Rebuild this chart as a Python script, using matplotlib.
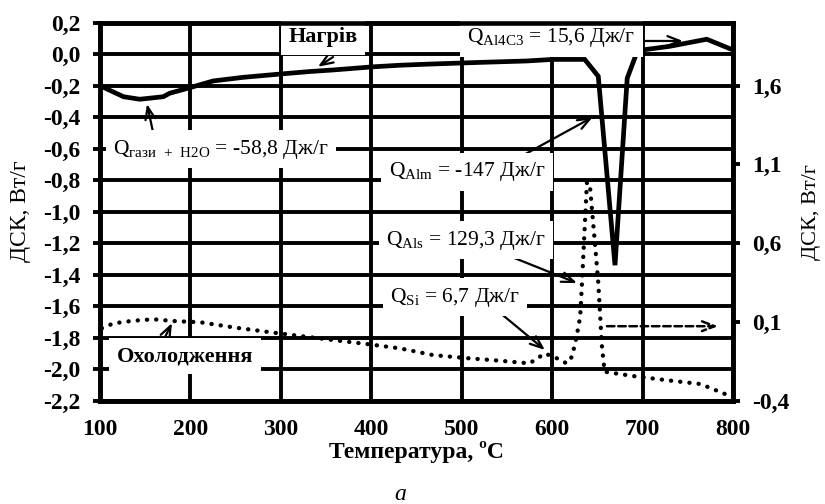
import matplotlib
matplotlib.use("Agg")
import matplotlib.pyplot as plt

# ---------------- data ----------------
heat_T = [100, 126, 144, 170, 177, 201, 225, 258, 299, 332, 358, 402, 432, 454, 468,
          520, 572, 601, 636, 651, 669.5, 683, 694, 700, 730, 771, 800]
heat_Q = [-0.20, -0.27, -0.286, -0.27, -0.248, -0.21, -0.17, -0.147, -0.126, -0.11, -0.10,
          -0.08, -0.07, -0.065, -0.062, -0.052, -0.043, -0.033, -0.033, -0.14, -1.34,
          -0.153, 0.016, 0.027, 0.05, 0.095, 0.027]

cool_T = [102, 115, 137, 159, 181, 211, 247, 284, 321, 358, 395, 432, 468, 506, 542,
          575, 592, 605, 616, 622, 627, 631, 633, 636, 638.5, 642, 647, 651, 655, 658,
          689, 727, 764, 791]
cool_Q = [0.06, 0.091, 0.108, 0.117, 0.106, 0.098, 0.066, 0.038, 0.011, -0.015, -0.04,
          -0.068, -0.11, -0.13, -0.146, -0.163, -0.10, -0.13, -0.163, -0.12, 0.006,
          0.133, 0.345, 0.70, 0.989, 0.95, 0.62, 0.35, -0.05, -0.216, -0.243, -0.27,
          -0.294, -0.357]

x_ticks = [100, 200, 300, 400, 500, 600, 700, 800]
y_left_ticks = [0.2, 0.0, -0.2, -0.4, -0.6, -0.8, -1.0, -1.2, -1.4, -1.6, -1.8, -2.0, -2.2]
y_right_ticks = [1.6, 1.1, 0.6, 0.1, -0.4]

# ---------------- style ----------------
plt.rcParams['font.family'] = ['Liberation Serif', 'DejaVu Serif']
plt.rcParams['mathtext.fontset'] = 'custom'
plt.rcParams['mathtext.rm'] = 'Liberation Serif'

fig = plt.figure(figsize=(8.25, 5.04), dpi=100)
ax = fig.add_axes([100/825, 1-400.7/504, 633/825, 378/504])
ax2 = ax.twinx()

GRID_LW = 2.8
TICK_FS = 17
ax.set_xlim(100, 800)
ax.set_ylim(-2.2, 0.2)
ax2.set_ylim(-0.4, 2.0)

ax.set_xticks(x_ticks)
ax.set_xticklabels([str(v) for v in x_ticks], fontweight='bold', fontsize=TICK_FS)
ax.set_yticks(y_left_ticks)
ax.set_yticklabels([f"{v:.1f}".replace('.', ',') for v in y_left_ticks],
                   fontweight='bold', fontsize=TICK_FS)
ax2.set_yticks(y_right_ticks)
ax2.set_yticklabels([f"{v:.1f}".replace('.', ',') for v in y_right_ticks],
                    fontweight='bold', fontsize=TICK_FS)

ax.tick_params(axis='x', length=0, pad=13)
ax.tick_params(axis='y', direction='out', length=5, width=GRID_LW, pad=9)
ax2.tick_params(axis='y', direction='out', length=5, width=GRID_LW, pad=9)

ax.grid(True, color='black', linewidth=GRID_LW)
ax.set_axisbelow(True)
for a in (ax, ax2):
    for s in a.spines.values():
        s.set_linewidth(3.3)
        s.set_color('black')

# curves
ax.plot(heat_T, heat_Q, color='black', linewidth=3.4, solid_joinstyle='miter', zorder=3)
ax2.plot(cool_T, cool_Q, color='black', linewidth=3.1, linestyle=(0, (0.05, 2.1)),
         dash_capstyle='round', zorder=3)

# labels
ax.set_ylabel('ДСК, Вт/г', fontsize=17, labelpad=9)
ax2.set_ylabel('ДСК, Вт/г', fontsize=16, labelpad=9)
ax.set_xlabel('Температура, ºС', fontsize=17, fontweight='bold', labelpad=1)
fig.text(400/825, 1-494/504, 'а', fontsize=17, style='italic', ha='center', va='center')

box = dict(boxstyle='square,pad=0.35', fc='white', ec='none')
arr = dict(arrowstyle='->,head_length=0.9,head_width=0.35', color='black', lw=1.6,
           shrinkA=0, shrinkB=0)

def ann(text, xy, xytext, tpos, **kw):
    ax.annotate('', xy=xy, xytext=xytext, arrowprops=arr, zorder=5)
    ax.text(tpos[0], tpos[1], text, ha='center', va='center', bbox=box, zorder=6, **kw)

QFS = 15.5
ann('Нагрів', (341, -0.08), (357.7, -0.018), (346.6, 0.109), fontsize=16, fontweight='bold')
ann(r'Q$_{\mathregular{гази\ +\ H2O}}$ = -58,8 Дж/г', (152, -0.316), (158.6, -0.494),
    (234, -0.602), fontsize=QFS)
ann(r'Q$_{\mathregular{Al4C3}}$ = 15,6 Дж/г', (744.7, 0.084), (695, 0.084),
    (599.3, 0.103), fontsize=QFS)
ann(r'Q$_{\mathregular{Alm}}$ = -147 Дж/г', (645, -0.399), (564.4, -0.653),
    (506, -0.747), fontsize=QFS)
ann(r'Q$_{\mathregular{Als}}$ = 129,3 Дж/г', (627.5, -1.453), (550, -1.275),
    (504.7, -1.18), fontsize=QFS)
ann(r'Q$_{\mathregular{Si}}$ = 6,7 Дж/г', (592, -1.878), (534.6, -1.605),
    (492.6, -1.543), fontsize=QFS)
ann('Охолодження', (179.6, -1.707), (171.9, -1.796), (194, -1.917), fontsize=16,
    fontweight='bold')
ax.annotate('', xy=(783.4, -1.727), xytext=(660.6, -1.727),
            arrowprops=dict(arrowstyle='->,head_length=0.9,head_width=0.35', color='black',
                            lw=1.8, linestyle=(0, (3, 1.5)), shrinkA=0, shrinkB=0),
            zorder=5)

fig.savefig('out.png', dpi=100)
